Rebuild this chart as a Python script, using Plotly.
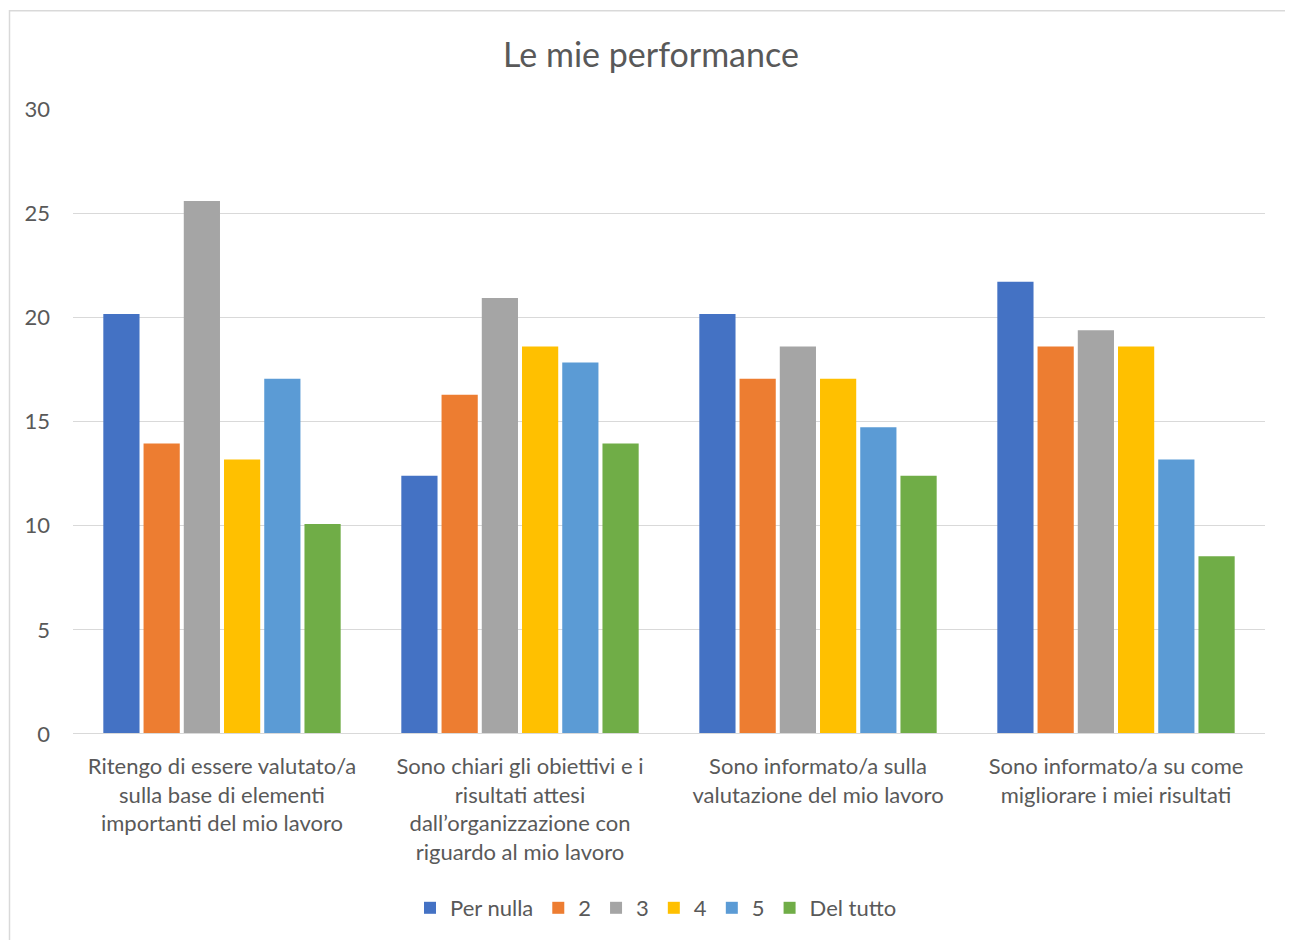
import plotly.graph_objects as go

categories = [
    "Ritengo di essere valutato/a<br>sulla base di elementi<br>importanti del mio lavoro",
    "Sono chiari gli obiettivi e i<br>risultati attesi<br>dall’organizzazione con<br>riguardo al mio lavoro",
    "Sono informato/a sulla<br>valutazione del mio lavoro",
    "Sono informato/a su come<br>migliorare i miei risultati",
]
series_names = ["Per nulla", "2", "3", "4", "5", "Del tutto"]
per_nulla = [20.16, 12.40, 20.16, 21.71]
s2 = [13.95, 16.28, 17.05, 18.60]
s3 = [25.58, 20.93, 18.60, 19.38]
s4 = [13.18, 18.60, 17.05, 18.60]
s5 = [17.05, 17.83, 14.73, 13.18]
del_tutto = [10.08, 13.95, 12.40, 8.53]
series_values = [per_nulla, s2, s3, s4, s5, del_tutto]
colors = ["#4472C4", "#ED7D31", "#A5A5A5", "#FFC000", "#5B9BD5", "#70AD47"]
y_ticks = [0, 5, 10, 15, 20, 25, 30]

FONT = "Lato, 'Open Sans', sans-serif"
fig = go.Figure()
for name, vals, c in zip(series_names, series_values, colors):
    fig.add_trace(go.Bar(name=name, x=categories, y=vals, marker_color=c,
                         marker_line_width=0, hoverinfo="y+name"))

OFF = 8  # page body margin
L, R, T, B = 73 - OFF, 28, 109 - OFF, 205
W, H = 1293 - OFF, 940 - OFF
pw, ph = W - L - R, H - T - B

fig.update_layout(
    width=W, height=H,
    margin=dict(l=L, r=R, t=T, b=B, pad=0),
    paper_bgcolor="white", plot_bgcolor="white",
    barmode="group", bargap=0.19, bargroupgap=0.1,
    title=dict(text="Le mie performance", x=(651 - OFF) / W, xanchor="center",
               y=1 - (55 - OFF) / H, yanchor="middle",
               font=dict(family=FONT, size=34, color="#595959")),
    font=dict(family=FONT, size=22, color="#595959"),
    legend=dict(orientation="h", x=(656 - OFF - L) / pw, xanchor="center",
                y=-(908 - 735) / ph, yanchor="middle",
                font=dict(family=FONT, size=22, color="#595959"),
                itemwidth=30, traceorder="normal", itemsizing="constant"),
    xaxis=dict(showgrid=False, showline=False, zeroline=False,
               ticks="", tickfont=dict(size=22, color="#595959"),
               ticklabelstandoff=17),
    yaxis=dict(range=[0, 30], tickvals=y_ticks, showgrid=True,
               gridcolor="#D9D9D9", gridwidth=1, zeroline=False,
               showline=False, ticks="", ticklabelstandoff=22,
               tickfont=dict(size=22, color="#595959")),
    shapes=[
        dict(type="line", xref="paper", yref="y", x0=0, x1=1, y0=0, y1=0,
             line=dict(color="#D9D9D9", width=2), layer="above"),
        dict(type="rect", xref="paper", yref="paper",
             x0=(9.5 - OFF - L) / pw, x1=(W + 10 - L) / pw,
             y0=-(H + 10 - T - ph) / ph, y1=(T + ph - (10.5 - OFF)) / ph,
             line=dict(color="#D9D9D9", width=1.5), fillcolor="rgba(0,0,0,0)",
             layer="below"),
    ],
)

fig.write_html("out.html")
